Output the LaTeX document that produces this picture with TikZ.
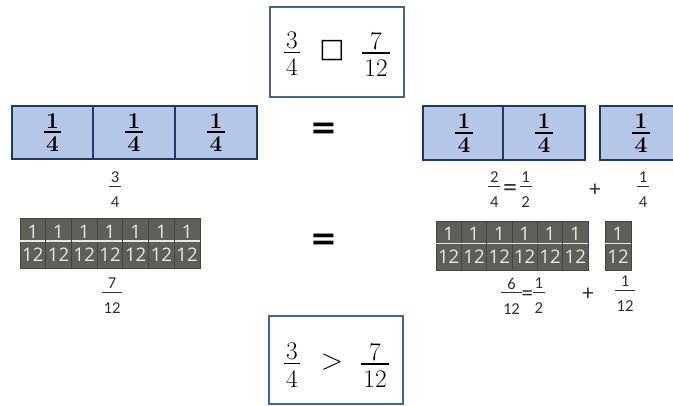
\documentclass[tikz,border=0pt]{standalone}
\usepackage{fontspec}
\newfontfamily\gfont{Open Sans}
\newfontfamily\cfont{Carlito}
\newfontfamily\dfont{DejaVu Sans}
\definecolor{bfill}{HTML}{B4C7E7}
\definecolor{bbord}{HTML}{1F3864}
\definecolor{frame}{HTML}{4262A8}
\definecolor{gfill}{HTML}{5F5F59}
\definecolor{gbord}{HTML}{45453F}
\definecolor{gtext}{HTML}{E6E6E6}
\definecolor{ink}{HTML}{303030}
% generic stacked fraction: gap above rule, gap below rule, rule thickness, numerator, denominator
\newcommand\stackfr[5]{\begingroup\setbox0\hbox{#4}\setbox2\hbox{#5}%
  \dimen0=\wd0 \ifdim\wd2>\dimen0 \dimen0=\wd2\fi\advance\dimen0 by .2em
  \vbox{\offinterlineskip\hbox to\dimen0{\hss\box0\hss}\kern#1\hrule height#3\kern#2%
  \hbox to\dimen0{\hss\box2\hss}}\endgroup}
\newcommand\bigfr[2]{\stackfr{.1em}{.22em}{.07em}{#1}{#2}}
\newcommand\bluefr[2]{\stackfr{.14em}{.16em}{.09em}{#1}{#2}}
\newcommand\grayfr[2]{\stackfr{.12em}{.3em}{.08em}{#1}{#2}}
\newcommand\smallfr[2]{\stackfr{.2em}{.6em}{.06em}{#1}{#2}}
\newcommand\vc[1]{\ensuremath{\vcenter{\hbox{#1}}}}
\begin{document}
\begin{tikzpicture}[x=0.75pt,y=-0.75pt,
  bluecell/.style={draw=bbord, fill=bfill, line width=1.6pt, minimum width=61pt,
    minimum height=40pt, inner sep=0pt, font=\bfseries\fontsize{17}{20}\selectfont},
  graycell/.style={draw=gbord, fill=gfill, line width=0.6pt, minimum width=#1,
    minimum height=37.5pt, inner sep=0pt, text=gtext, font=\gfont\fontsize{14}{17}\selectfont},
  graycell/.default=19.3pt,
  framebox/.style={draw=frame, line width=1.5pt, minimum width=100.5pt, inner sep=0pt},
  bigtext/.style={inner sep=0pt, font=\fontsize{19}{23}\selectfont},
  label/.style={inner sep=0pt, text=ink, font=\cfont\fontsize{12.5}{15}\selectfont},
  plus/.style={inner sep=0pt, text=ink, font=\cfont\fontsize{17}{20}\selectfont},
  eqsign/.style={inner sep=0pt, font=\dfont\bfseries\fontsize{24}{28}\selectfont}]
\useasboundingbox (0,0) rectangle (673,405);

% top box
\node[framebox, minimum height=67.5pt] (topbox) at (337,52) {};
\node[bigtext] (t34) at (292,54) {\bigfr{3}{4}};
\node[bigtext, font=\dfont\bfseries\fontsize{20}{24}\selectfont] (tsq) at (332,51) {□};
\node[bigtext] (t712) at (376,54) {\bigfr{7}{12}};

% bottom box
\node[framebox, minimum height=66pt] (botbox) at (336,360) {};
\node[bigtext] (b34) at (292,365) {\bigfr{3}{4}};
\node[bigtext, font=\fontsize{22}{26}\selectfont] (bgt) at (332,362) {>};
\node[bigtext] (b712) at (375,365) {\bigfr{7}{12}};

% top-left blue bar
\foreach \x [count=\i] in {52.5,134,216}
  \node[bluecell] (lq\i) at (\x,132.5) {\bluefr{1}{4}};
\node[label] (l34) at (115,190) {\smallfr{3}{4}};

% top-right blue bars
\foreach \x [count=\i] in {464,544}
  \node[bluecell] (rq\i) at (\x,133) {\bluefr{1}{4}};
\begin{scope}
  \clip (0,0) rectangle (673,405);
  \node[bluecell] (rq3) at (641,133) {\bluefr{1}{4}};
\end{scope}
\node[label] (r24) at (510,190) {\vc{\smallfr{2}{4}}\,\vc{\fontsize{21}{22}\selectfont=}\,\vc{\smallfr{1}{2}}};
\node[plus] (rplus1) at (595,190) {+};
\node[label] (r14) at (643,190) {\smallfr{1}{4}};

% equals signs
\node[eqsign] (eq1) at (324,131) {=};
\node[eqsign] (eq2) at (324,242) {=};

% bottom-left gray bar
\foreach \x [count=\i] in {32.86,58.57,84.29,110,135.71,161.43,187.14}
  \node[graycell] (lg\i) at (\x,243) {\grayfr{1}{12}};
\node[label] (l712) at (112,296) {\smallfr{7}{12}};

% bottom-right gray bar
\foreach \x [count=\i] in {448.67,474,499.33,524.67,550,575.33}
  \node[graycell=19pt, minimum height=36.75pt] (rg\i) at (\x,245.5) {\grayfr{1}{12}};
\node[graycell=19.5pt, minimum height=36.75pt] (rg7) at (618,245.5) {\grayfr{1}{12}};
\node[label] (r612) at (523,296) {\vc{\smallfr{6}{12}}\vc{\fontsize{17}{18}\selectfont=}\vc{\smallfr{1}{2}}};
\node[plus] (rplus2) at (588,294) {+};
\node[label] (r112) at (625,294) {\smallfr{1}{12}};
\end{tikzpicture}
\end{document}
